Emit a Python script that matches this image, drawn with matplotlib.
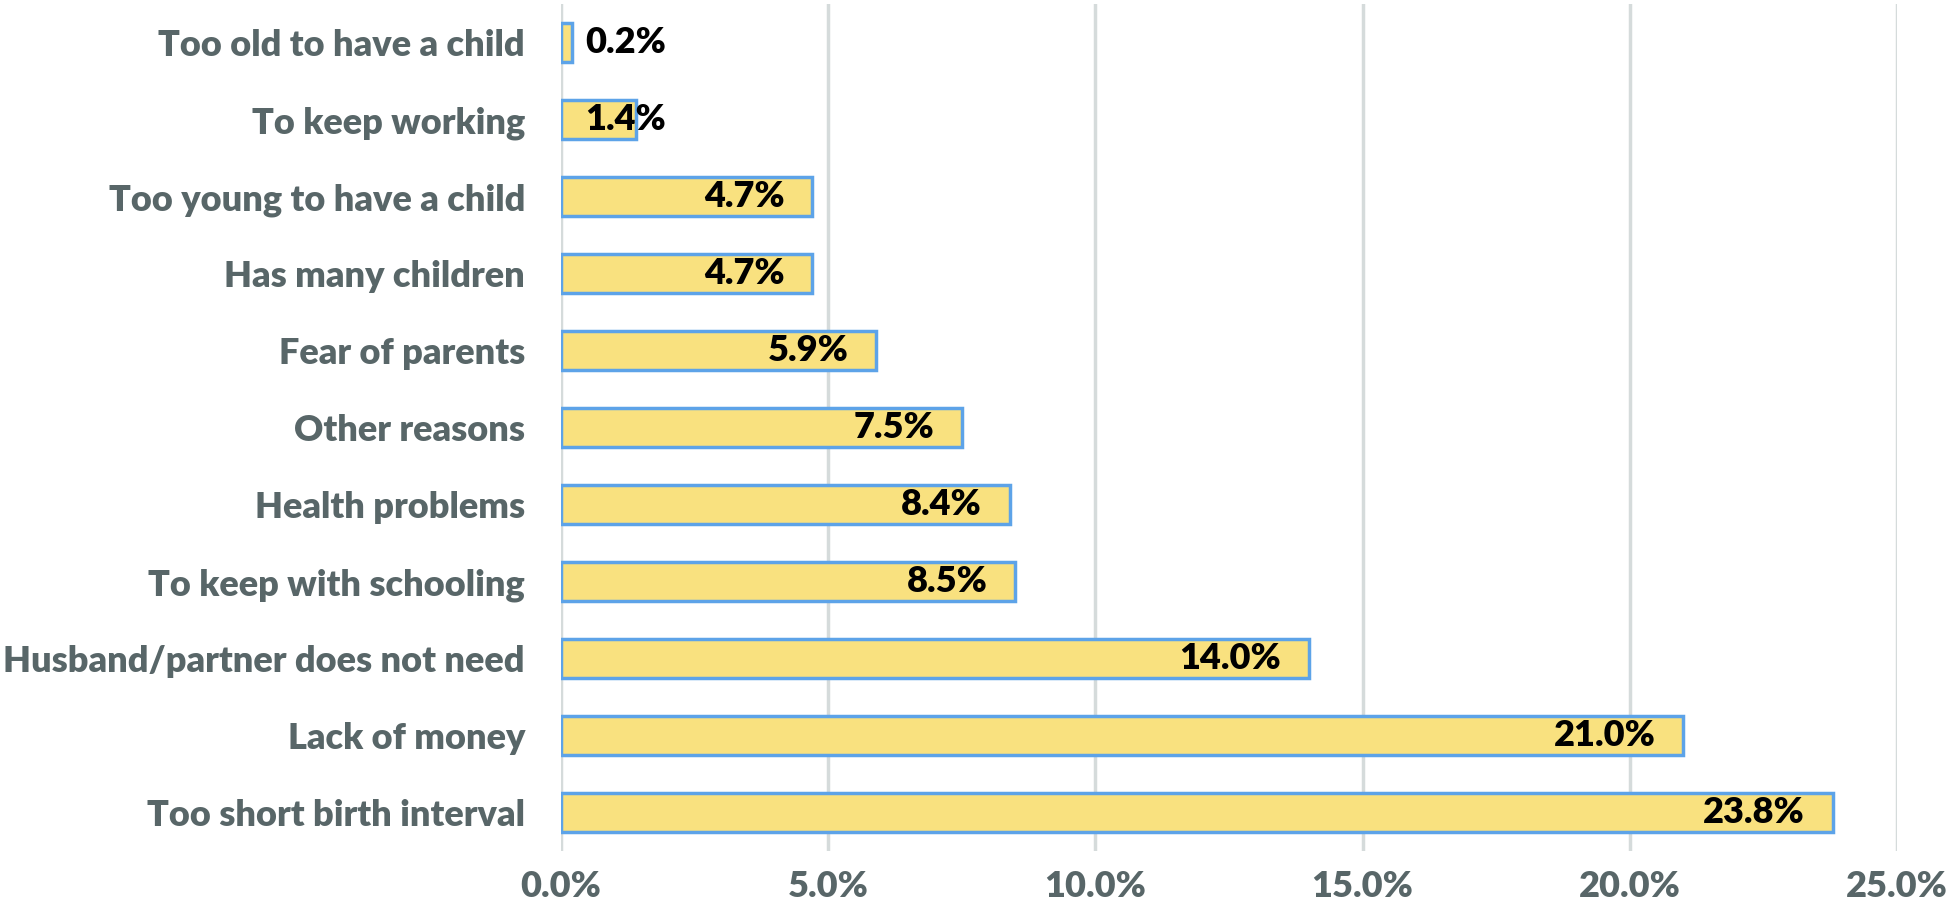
import matplotlib
matplotlib.use("Agg")
import matplotlib.pyplot as plt
from matplotlib.ticker import FuncFormatter

categories = [
    "Too old to have a child",
    "To keep working",
    "Too young to have a child",
    "Has many children",
    "Fear of parents",
    "Other reasons",
    "Health problems",
    "To keep with schooling",
    "Husband/partner does not need",
    "Lack of money",
    "Too short birth interval",
]
values = [0.2, 1.4, 4.7, 4.7, 5.9, 7.5, 8.4, 8.5, 14.0, 21.0, 23.8]
xticks = [0, 5, 10, 15, 20, 25]

plt.rcParams['font.family'] = ['Lato', 'DejaVu Sans']
plt.rcParams['font.weight'] = 'heavy'

gray = "#586668"
fig = plt.figure(figsize=(19.46, 9.15), dpi=100)
ax = fig.add_axes([0.2883, 0.0699, 0.6865, 0.9257])

ypos = list(range(len(categories)))
ax.barh(ypos, values, height=0.5, color="#F9E17F", edgecolor="#5DA3E8", linewidth=2.5, zorder=3)
ax.set_ylim(len(categories) - 0.5, -0.5)
ax.set_xlim(0, 25)
ax.set_yticks(ypos)
ax.set_yticklabels(categories, fontsize=26, color=gray, fontweight='heavy')
ax.set_xticks(xticks)
ax.xaxis.set_major_formatter(FuncFormatter(lambda v, p: f"{v:.1f}%"))
for lab in ax.get_xticklabels():
    lab.set_fontsize(26)
    lab.set_color(gray)
    lab.set_fontweight('heavy')
ax.tick_params(axis='both', length=0)
ax.tick_params(axis='y', pad=26)
ax.tick_params(axis='x', pad=14)
ax.grid(axis='x', color="#D5DBDB", linewidth=2.5, zorder=0)
for s in ax.spines.values():
    s.set_visible(False)

for y, v in zip(ypos, values):
    xr = max(v - 0.52, 1.96)
    ax.text(xr, y, f"{v:.1f}%", ha='right', va='center', fontsize=26,
            fontweight='heavy', color='black', zorder=4)

fig.savefig("out.png", dpi=100)
